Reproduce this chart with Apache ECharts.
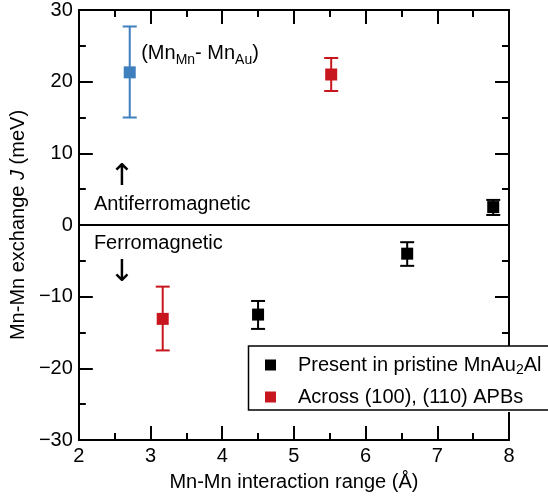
<!DOCTYPE html>
<html>
<head>
<meta charset="utf-8">
<script src="https://cdn.jsdelivr.net/npm/echarts@6/dist/echarts.min.js"></script>
<style>
  html, body { margin: 0; padding: 0; background: #fff; }
  #main { width: 548px; height: 499px; }
</style>
</head>
<body>
<div id="main"></div>
<script>
// J values with error range: [x (Å), J, low, high]
const pristine = [[4.50, -12.5, -14.5, -10.6], [6.58, -4.0, -5.7, -2.4], [7.78, 2.5, 1.4, 3.5]]
const apb = [[3.17, -13.1, -17.5, -8.6], [5.52, 21.0, 18.7, 23.3]]
const mnMn = [[2.71, 21.3, 15.0, 27.7]]

const xTicks = { min: 2, max: 8, step: 1 }
const yTicks = { min: -30, max: 30, step: 10 }

const nameA = 'Present in pristine MnAu2Al'
const nameB = 'Across (100), (110) APBs'

const BLACK = '#000'
const RED = '#c8161e'
const BLUE = '#3f7fbd'
const FONT = 'Liberation Sans'

// annotations, positioned in data coords
const notes = [
  { text: 'Antiferromagnetic', x: 2.21, y: 2.9, align: 'left' },
  { text: 'Ferromagnetic', x: 2.21, y: -2.6, align: 'left' },
  { text: '\u2191', x: 2.6, y: 6.6, align: 'center', arrow: true },
  { text: '\u2193', x: 2.6, y: -6.7, align: 'center', arrow: true },
  { text: '(Mn{s|Mn}- Mn{s|Au})', x: 2.87, y: 23.9, align: 'left' }
]

const chart = echarts.init(document.getElementById('main'), null, { renderer: 'canvas' })

const minus = v => String(v).replace('-', '\u2212')

function errBars(data, color) {
  return {
    type: 'custom',
    data: data.map(d => [d[0], d[2], d[3]]),
    z: 2,
    silent: true,
    renderItem: (params, api) => {
      const top = api.coord([api.value(0), api.value(2)])
      const bot = api.coord([api.value(0), api.value(1)])
      const w = 7
      const st = { stroke: color, lineWidth: 2 }
      return {
        type: 'group',
        children: [
          { type: 'line', shape: { x1: top[0], y1: top[1], x2: bot[0], y2: bot[1] }, style: st },
          { type: 'line', shape: { x1: top[0] - w, y1: top[1], x2: top[0] + w, y2: top[1] }, style: st },
          { type: 'line', shape: { x1: bot[0] - w, y1: bot[1], x2: bot[0] + w, y2: bot[1] }, style: st }
        ]
      }
    }
  }
}

function dots(name, data, color) {
  return {
    name: name,
    type: 'scatter',
    symbol: 'rect',
    symbolSize: 12,
    z: 3,
    itemStyle: { color: color, opacity: 1 },
    data: data.map(d => [d[0], d[1]])
  }
}

const axisStyle = { onZero: false, lineStyle: { color: BLACK, width: 2 } }
const tick = { show: true, inside: true, length: 14, lineStyle: { color: BLACK, width: 2 } }
const minor = { show: true, splitNumber: 2, length: 7, lineStyle: { color: BLACK, width: 2 } }

function xAx(pos, withLabel) {
  return {
    type: 'value', position: pos,
    min: xTicks.min, max: xTicks.max, interval: xTicks.step,
    axisLine: axisStyle, axisTick: tick, minorTick: minor, splitLine: { show: false },
    axisLabel: { show: withLabel, fontSize: 20, color: BLACK, fontFamily: FONT, margin: 6 },
    name: withLabel ? 'Mn-Mn interaction range (\u00c5)' : '',
    nameLocation: 'middle', nameGap: 32,
    nameTextStyle: { fontSize: 20, color: BLACK, fontFamily: FONT }
  }
}

function yAx(pos, withLabel) {
  return {
    type: 'value', position: pos,
    min: yTicks.min, max: yTicks.max, interval: yTicks.step,
    axisLine: axisStyle, axisTick: tick, minorTick: minor, splitLine: { show: false },
    axisLabel: { show: withLabel, fontSize: 20, color: BLACK, fontFamily: FONT, margin: 6, formatter: minus },
    name: withLabel ? 'Mn-Mn exchange {i|J} (meV)' : '',
    nameLocation: 'middle', nameGap: 48, nameRotate: 90,
    nameTextStyle: {
      fontSize: 20, color: BLACK, fontFamily: FONT,
      rich: { i: { fontSize: 20, fontStyle: 'italic', fontFamily: FONT, color: BLACK } }
    }
  }
}

const black = dots(nameA, pristine, BLACK)
black.markLine = {
  silent: true, symbol: 'none', label: { show: false },
  lineStyle: { color: BLACK, width: 2, type: 'solid' },
  data: [{ yAxis: 0 }]
}

chart.setOption({
  animation: false,
  backgroundColor: '#fff',
  grid: { left: 76, right: 39, top: 9, bottom: 59 },
  xAxis: [xAx('bottom', true), xAx('top', false)],
  yAxis: [yAx('left', true), yAx('right', false)],
  legend: {
    data: [nameA, nameB],
    orient: 'vertical',
    left: 248, top: 346,
    itemWidth: 11, itemHeight: 11, itemGap: 10,
    icon: 'rect',
    padding: [9, 20, 5, 17],
    backgroundColor: '#fff',
    borderWidth: 0,
    z: 10,
    formatter: n => n === nameA ? '{t|Present in pristine MnAu}{s|2}{u|Al}' : '{t|' + n + '}',
    textStyle: {
      fontSize: 20, color: BLACK, fontFamily: FONT, lineHeight: 20,
      rich: {
        t: { fontSize: 20, fontFamily: FONT, color: BLACK, padding: [0, 0, 0, 17] },
        u: { fontSize: 20, fontFamily: FONT, color: BLACK },
        s: { fontSize: 14, fontFamily: FONT, color: BLACK, padding: [10, 0, 0, 0] }
      }
    }
  },
  series: [
    errBars(mnMn, BLUE), errBars(apb, RED), errBars(pristine, BLACK),
    dots('mn', mnMn, BLUE),
    dots(nameB, apb, RED),
    black
  ]
})

// text annotations + legend frame (runs past the right edge, as in the figure)
const labels = notes.map(n => {
  const p = chart.convertToPixel({ xAxisIndex: 0, yAxisIndex: 0 }, [n.x, n.y])
  return {
    type: 'text', x: p[0], y: p[1], z: 20,
    style: {
      text: n.text,
      align: n.align, verticalAlign: 'middle',
      fontSize: n.arrow ? 30 : 20,
      fontFamily: n.arrow ? 'DejaVu Sans' : FONT,
      fill: BLACK,
      rich: { s: { fontSize: 14, fontFamily: FONT, fill: BLACK, padding: [12, 0, 0, 0] } }
    }
  }
})
labels.push({
  type: 'rect', z: 30, silent: true,
  shape: { x: 248.5, y: 346, width: 320, height: 64 },
  style: { fill: 'none', stroke: BLACK, lineWidth: 1.5 }
})
chart.setOption({ graphic: labels })
</script>
</body>
</html>
